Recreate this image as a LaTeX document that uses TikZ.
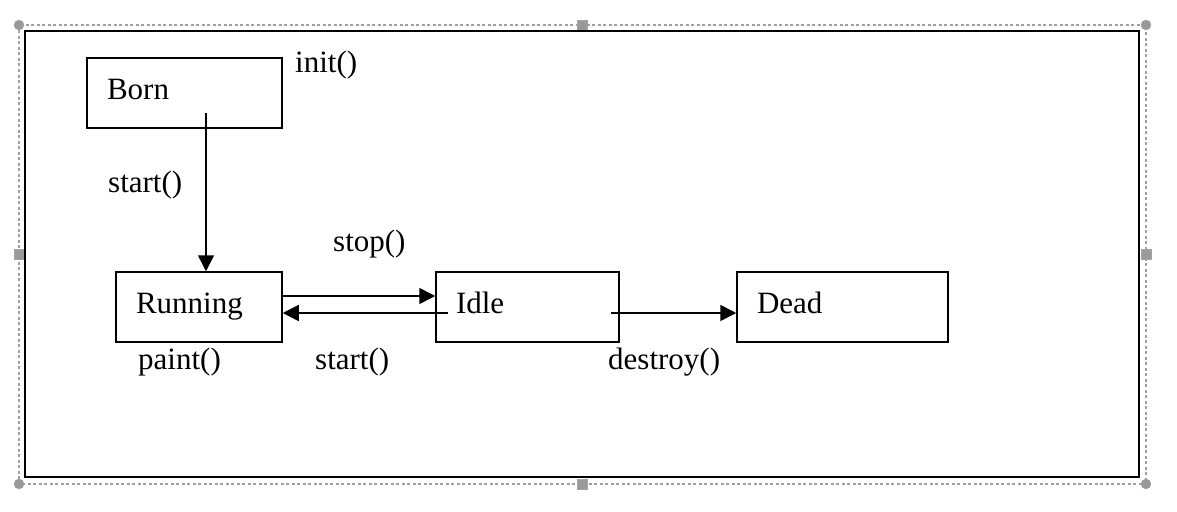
\documentclass[tikz,border=0pt]{standalone}
\usepackage{fontspec}
\setmainfont{Liberation Serif}
\usetikzlibrary{arrows.meta}

\begin{document}
\begin{tikzpicture}[x=1pt,y=-1pt,font=\fontsize{31}{35}\selectfont]
\tikzset{state box/.style={ %
		draw,
		line width=1.5pt,
		rectangle,
		inner xsep=20pt,
		inner ysep=0pt,
		minimum height=70pt,
		text width=#1,
		align=left,
		text height=20pt,
		text depth=8pt %
	},
	call label/.style={anchor=base west,inner sep=0pt},
	sel handle/.style={fill=gray!80,draw=gray!70},
	trans/.style={line width=1.5pt,-{Triangle[length=16pt,width=16pt]}}
}
\useasboundingbox (0,0) rectangle (1177,511);

% selection frame of the canvas
\draw[gray!75,line width=1.3pt,dash pattern=on 3pt off 2.5pt] (19,25) rectangle (1146,484);
\foreach \x/\y in {19/25,1146/25,19/484,1146/484}
	\fill[sel handle] (\x,\y) circle (5pt);
\foreach \x/\y in {582/25,19/254,1146/254,582/484}
	\fill[sel handle] (\x-5,\y-5) rectangle (\x+5,\y+5);

\draw[line width=2pt] (25,31) rectangle (1139,477);

\node[state box=155pt] (born) at (184.5,93) {Born};
\node[state box=126pt] (running) at (199,307) {Running};
\node[state box=143pt] (idle) at (527.5,307) {Idle};
\node[state box=171pt] (dead) at (842.5,307) {Dead};

\draw[trans] ([xshift=21.5pt,yshift=16pt]born.south) coordinate (b1) -- (b1 |- running.north);
\draw[trans] ([yshift=11pt]running.east) -- ([yshift=11pt]idle.west);
\draw[trans] ([xshift=13pt,yshift=-6pt]idle.west) -- ([yshift=-6pt]running.east);
\draw[trans] ([xshift=-9pt,yshift=-6pt]idle.east) -- ([yshift=-6pt]dead.west);

\node[call label] (init) at (295,72) {init()};
\node[call label] (start1) at (108,192) {start()};
\node[call label] (stop) at (333,251) {stop()};
\node[call label] (paint) at (138,369) {paint()};
\node[call label] (start2) at (315,369) {start()};
\node[call label] (destroy) at (608,369) {destroy()};

\end{tikzpicture}
\end{document}
